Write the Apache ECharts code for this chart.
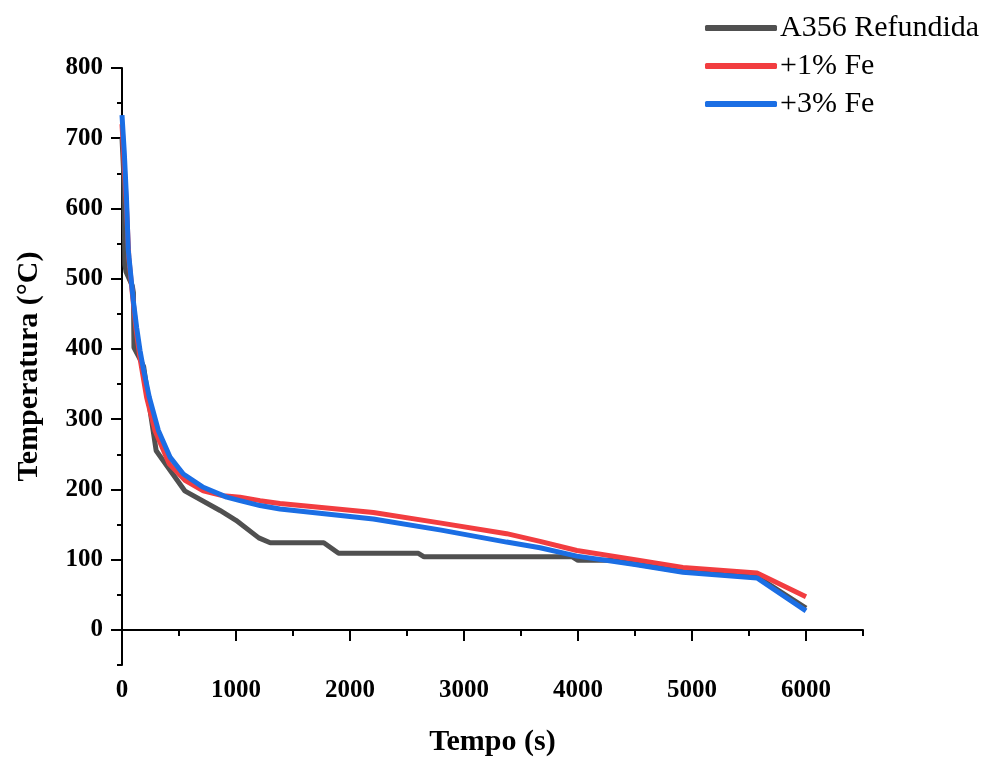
<!DOCTYPE html>
<html>
<head>
<meta charset="utf-8">
<script src="https://cdn.jsdelivr.net/npm/echarts@6/dist/echarts.min.js"></script>
<style>
html,body{margin:0;padding:0;background:#fff;}
#main{width:999px;height:762px;}
</style>
</head>
<body>
<div id="main"></div>
<script>
// nomes das séries
var names = ['A356 Refundida', '+1% Fe', '+3% Fe'];
// tempo (s) / temperatura (°C)
var tA356 = [0, 15, 25, 35, 90, 100, 105, 160, 190, 230, 300, 550, 860, 1000, 1200, 1300, 1770, 1900, 2600, 2650, 3950, 4000, 4300, 4920, 5570, 6000];
var vA356 = [700, 650, 520, 510, 490, 480, 402, 385, 375, 330, 255, 198, 170, 156, 131, 124, 124, 109, 109, 104, 104, 99, 99, 83, 76, 31];
var tFe1 = [0, 20, 40, 60, 90, 124, 160, 216, 289, 415, 553, 713, 889, 1035, 1211, 1386, 2205, 2800, 3374, 3667, 3990, 4500, 4920, 5570, 6000];
var vFe1 = [720, 660, 600, 530, 480, 427, 385, 331, 284, 236, 213, 198, 191, 189, 184, 180, 167, 152, 137, 126, 113, 100, 89, 81, 47];
var tFe3 = [0, 20, 40, 55, 99, 129, 158, 187, 240, 319, 421, 538, 713, 918, 1035, 1211, 1386, 2205, 2800, 3374, 3667, 3990, 4500, 4920, 5570, 6000];
var vFe3 = [733, 680, 612, 541, 469, 430, 398, 372, 331, 284, 246, 222, 203, 189, 184, 177, 172, 158, 142, 125, 117, 105, 93, 82, 74, 27];
// marcas dos eixos
var xMajor = [0, 1000, 2000, 3000, 4000, 5000, 6000];
var xMinor = [500, 1500, 2500, 3500, 4500, 5500, 6500];
var yMajor = [0, 100, 200, 300, 400, 500, 600, 700, 800];
var yMinor = [-50, 50, 150, 250, 350, 450, 550, 650, 750];

function pares(t, v){
	var d = [];
	for (var i = 0; i < t.length; i++) { d.push([t[i], v[i]]); }
	return d;
}

var myChart = echarts.init(document.getElementById('main'));
var fonte = 'Liberation Serif, Times New Roman, serif';
var rotulo = { fontFamily: fonte, fontWeight: 'bold', fontSize: 25, color: '#000' };
var titulo = { fontFamily: fonte, fontWeight: 'bold', fontSize: 30, color: '#000' };
var traco = { color: '#000', width: 2 };

var option = {
	backgroundColor: '#fff',
	animation: false,
	grid: { left: 122, right: 136, top: 68, bottom: 97 },
	legend: {
		orient: 'vertical',
		left: 700,
		top: 8,
		icon: 'roundRect',
		itemWidth: 72,
		itemHeight: 6,
		itemGap: 8,
		textStyle: { fontFamily: fonte, fontSize: 30, color: '#000', padding: [0, 0, 0, -2] },
		data: names
	},
	xAxis: [{
		type: 'value', position: 'bottom', min: 0, max: 6500,
		name: 'Tempo (s)', nameLocation: 'middle', nameGap: 62,
		nameTextStyle: titulo,
		axisLine: { lineStyle: traco },
		splitLine: { show: false },
		axisTick: { show: true, length: 11, customValues: xMajor, lineStyle: traco },
		axisLabel: Object.assign({ customValues: xMajor, margin: 13, formatter: function (v) { return String(v); } }, rotulo)
	}, {
		type: 'value', position: 'bottom', min: 0, max: 6500,
		axisLine: { show: false },
		splitLine: { show: false },
		axisTick: { show: true, length: 6, customValues: xMinor, lineStyle: traco },
		axisLabel: { show: false }
	}],
	yAxis: [{
		type: 'value', position: 'left', min: -50, max: 800,
		name: 'Temperatura (°C)', nameLocation: 'middle', nameGap: 78,
		nameTextStyle: titulo,
		axisLine: { show: true, lineStyle: traco },
		splitLine: { show: false },
		axisTick: { show: true, length: 11, customValues: yMajor, lineStyle: traco },
		axisLabel: Object.assign({ customValues: yMajor, margin: 19 }, rotulo)
	}, {
		type: 'value', position: 'left', min: -50, max: 800,
		axisLine: { show: false },
		splitLine: { show: false },
		axisTick: { show: true, length: 5, customValues: yMinor, lineStyle: traco },
		axisLabel: { show: false }
	}],
	series: [{
		name: names[0], type: 'line', symbol: 'none',
		data: pares(tA356, vA356),
		lineStyle: { color: '#505050', width: 5 }, itemStyle: { color: '#505050' }
	}, {
		name: names[1], type: 'line', symbol: 'none',
		data: pares(tFe1, vFe1),
		lineStyle: { color: '#f23d40', width: 5 }, itemStyle: { color: '#f23d40' }
	}, {
		name: names[2], type: 'line', symbol: 'none',
		data: pares(tFe3, vFe3),
		lineStyle: { color: '#1b6ee4', width: 5 }, itemStyle: { color: '#1b6ee4' }
	}]
};

myChart.setOption(option);
</script>
</body>
</html>
